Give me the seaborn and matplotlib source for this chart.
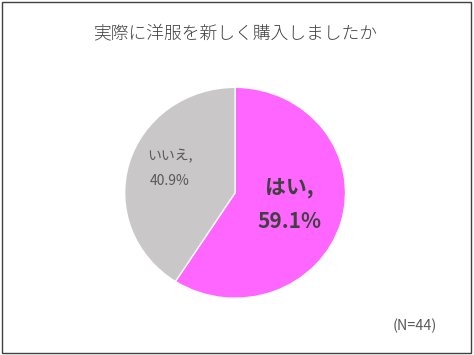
import matplotlib.pyplot as plt
import seaborn as sns
from matplotlib.patches import Rectangle

title = "実際に洋服を新しく購入しましたか"
answers = ["はい", "いいえ"]
counts = [26, 18]
colors = ["#FF66FF", "#C9C7C7"]
note = "(N=44)"

sns.set_theme(style="white")
plt.rcParams["font.family"] = ["Noto Sans CJK JP", "DejaVu Sans"]

fig = plt.figure(figsize=(4.74, 3.55), dpi=100)
ax = fig.add_axes([0.263, 0.16, 0.466, 0.594])

wedges, _ = ax.pie(counts, colors=colors, startangle=90, counterclock=False,
                   wedgeprops=dict(edgecolor="white", linewidth=1))
ax.set_aspect("auto")
ax.set_xlim(-1, 1)
ax.set_ylim(-1, 1)

total = sum(counts)
pcts = [100 * c / total for c in counts]

# label positions inside slices
ax.text(0.49, -0.11, f"{answers[0]},\n{pcts[0]:.1f}%", ha="center", va="center",
        fontsize=15, fontweight="bold", color="#404040", linespacing=1.75)
ax.text(-0.59, 0.23, f"{answers[1]},\n{pcts[1]:.1f}%", ha="center", va="center",
        fontsize=10, color="#595959", linespacing=1.95)

fig.text(0.496, 0.905, title, ha="center", va="center", fontsize=12.8,
         color="#404040", fontweight="light")
fig.text(0.876, 0.081, note, ha="center", va="center", fontsize=10.3, color="#595959")

fig.add_artist(Rectangle((0.004, 0.006), 0.99, 0.988, transform=fig.transFigure,
                         fill=False, edgecolor="#404040", linewidth=1))

fig.savefig("out.png", dpi=100, facecolor="white")
